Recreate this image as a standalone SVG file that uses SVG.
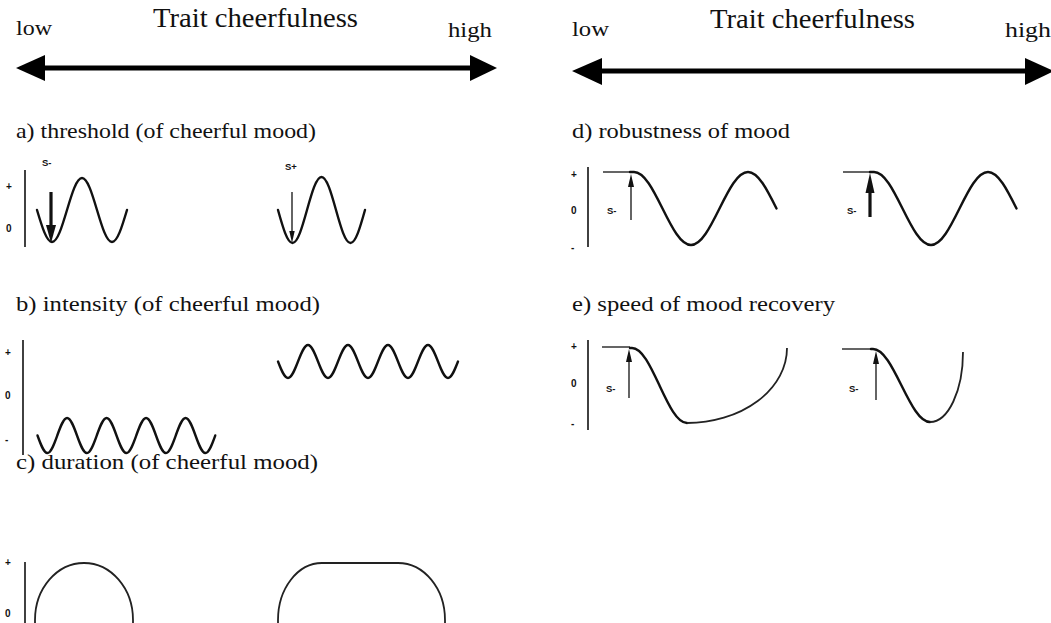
<svg xmlns="http://www.w3.org/2000/svg" width="1051" height="623" viewBox="0 0 1051 623">
<style>
.title{font-family:"Liberation Serif","Times New Roman",Times,serif;font-size:28px;fill:#111}
.end{font-family:"Liberation Serif","Times New Roman",Times,serif;font-size:22px;fill:#111}
.lab{font-family:"Liberation Serif","Times New Roman",Times,serif;font-size:22px;fill:#111}
.tick{font-family:"Liberation Sans",Arial,sans-serif;font-size:10px;font-weight:bold;fill:#111}
.s{font-family:"Liberation Sans",Arial,sans-serif;font-size:9.5px;font-weight:bold;fill:#111}
.ax{stroke:#111;stroke-width:1.6;fill:none}
.wave{stroke:#111;stroke-width:2.4;fill:none;stroke-linejoin:round;stroke-linecap:round}
.smooth{stroke:#222;stroke-width:1.8;fill:none}
.base{stroke:#111;stroke-width:1.3;fill:none}
.thin{stroke:#111;stroke-width:1.3;fill:none}
.thick{stroke:#111;stroke-width:3.2;fill:none}
.big{stroke:#000;stroke-width:5;fill:none}
</style>
<rect width="1051" height="623" fill="#fff"/>

<g id="scale-left">
<text class="title" x="153" y="27" textLength="205" lengthAdjust="spacingAndGlyphs">Trait cheerfulness</text>
<text class="end" x="16" y="35" textLength="36" lengthAdjust="spacingAndGlyphs">low</text>
<text class="end" x="448" y="37" textLength="44" lengthAdjust="spacingAndGlyphs">high</text>
<line class="big" x1="40" y1="68" x2="475" y2="68"/>
<polygon points="16,68 45,55 45,81" fill="#000"/>
<polygon points="497,68 470,55 470,81" fill="#000"/>
</g>

<g id="scale-right">
<text class="title" x="710" y="28" textLength="205" lengthAdjust="spacingAndGlyphs">Trait cheerfulness</text>
<text class="end" x="572" y="36" textLength="37" lengthAdjust="spacingAndGlyphs">low</text>
<text class="end" x="1005" y="37" textLength="46" lengthAdjust="spacingAndGlyphs">high</text>
<line class="big" x1="598" y1="71" x2="1030" y2="71"/>
<polygon points="572,71 602,58 602,85" fill="#000"/>
<polygon points="1054,71 1025,58 1025,85" fill="#000"/>
</g>

<g id="panel-a">
<text class="lab" x="16" y="138" textLength="300" lengthAdjust="spacingAndGlyphs">a) threshold (of cheerful mood)</text>
<line class="ax" x1="25" y1="170" x2="25" y2="247"/>
<text class="tick" x="6" y="190">+</text>
<text class="tick" x="6" y="232">0</text>
<text class="s" x="42" y="166">S-</text>
<path class="wave" d="M37,210 C41.89,226.4 46.57,242 52,242 S62.11,226.4 67,210 S76.57,178 82,178 S92.11,193.6 97,210 S106.57,242 112,242 S122.11,226.4 127,210"/>
<line class="thick" x1="51" y1="192" x2="51" y2="228"/>
<polygon points="46,225 56,225 51,243" fill="#111"/>
<text class="s" x="285" y="170">S+</text>
<path class="wave" d="M278,210 C282.73,226.9 287.25,243 292.5,243 S302.27,226.9 307,210 S316.25,177 321.5,177 S331.27,193.1 336,210 S345.25,243 350.5,243 S360.27,226.9 365,210"/>
<line class="thin" x1="292" y1="192" x2="292" y2="236"/>
<polygon points="289.3,231 294.7,231 292,243" fill="#111"/>
</g>

<g id="panel-b">
<text class="lab" x="16" y="311" textLength="304" lengthAdjust="spacingAndGlyphs">b) intensity (of cheerful mood)</text>
<line class="ax" x1="23" y1="340" x2="23" y2="455"/>
<text class="tick" x="5" y="356">+</text>
<text class="tick" x="5" y="399">0</text>
<text class="tick" x="5" y="443">-</text>
<path class="wave" d="M37.5,435.5 C40.72,444.46 43.8,453 47.4,453 S54.03,444.46 57.25,435.5 S63.55,418 67.1,418 S73.78,426.54 77,435.5 S83.3,453 86.9,453 S93.53,444.46 96.75,435.5 S103.05,418 106.6,418 S113.28,426.54 116.5,435.5 S122.8,453 126.4,453 S133.03,444.46 136.25,435.5 S142.55,418 146.1,418 S152.78,426.54 156,435.5 S162.3,453 165.9,453 S172.53,444.46 175.75,435.5 S182.05,418 185.6,418 S192.28,426.54 195.5,435.5 S201.8,453 205.4,453 S212.03,444.46 215.25,435.5"/>
<path class="wave" d="M278,361.5 C281.26,369.95 284.38,378 288,378 S294.74,369.95 298,361.5 S304.38,345 308,345 S314.74,353.05 318,361.5 S324.38,378 328,378 S334.74,369.95 338,361.5 S344.38,345 348,345 S354.74,353.05 358,361.5 S364.38,378 368,378 S374.74,369.95 378,361.5 S384.38,345 388,345 S394.74,353.05 398,361.5 S404.38,378 408,378 S414.74,369.95 418,361.5 S424.38,345 428,345 S434.74,353.05 438,361.5 S444.38,378 448,378 S454.74,369.95 458,361.5"/>
</g>

<g id="panel-c">
<text class="lab" x="16" y="469" textLength="302" lengthAdjust="spacingAndGlyphs">c) duration (of cheerful mood)</text>
<line class="ax" x1="25" y1="562" x2="25" y2="630"/>
<text class="tick" x="5" y="566">+</text>
<text class="tick" x="5" y="617">0</text>
<path class="smooth" d="M35,625 L35,620 A49,57 0 0 1 133,620 L133,625"/>
<path class="smooth" d="M278,625 L278,620 A44,57 0 0 1 322,563 L398,563 A47,57 0 0 1 445,620 L445,625"/>
</g>

<g id="panel-d">
<text class="lab" x="572" y="138" textLength="218" lengthAdjust="spacingAndGlyphs">d) robustness of mood</text>
<line class="ax" x1="588" y1="167" x2="588" y2="247"/>
<text class="tick" x="571" y="178">+</text>
<text class="tick" x="571" y="214">0</text>
<text class="tick" x="571" y="251">-</text>
<line class="base" x1="603" y1="172" x2="632" y2="172"/>
<line class="thin" x1="631" y1="220" x2="631" y2="182"/>
<polygon points="628,187 634,187 631,174" fill="#111"/>
<text class="s" x="607" y="214">S-</text>
<path class="wave" d="M630,172 L634,172 C644.3,172 653.2,189.8 662.5,208.5 S680.7,245 691,245 S710.2,227.2 719.5,208.5 S737.7,172 748,172 S767.2,189.8 776.5,208.5"/>
<line class="base" x1="843" y1="172" x2="872" y2="172"/>
<line class="thick" x1="870" y1="217" x2="870" y2="188"/>
<polygon points="865.5,193 874.5,193 870,173" fill="#111"/>
<text class="s" x="847" y="214">S-</text>
<path class="wave" d="M870,172 L874,172 C884.3,172 893.2,189.8 902.5,208.5 S920.7,245 931,245 S950.2,227.2 959.5,208.5 S977.7,172 988,172 S1007.2,189.8 1016.5,208.5"/>
</g>

<g id="panel-e">
<text class="lab" x="572" y="311" textLength="263" lengthAdjust="spacingAndGlyphs">e) speed of mood recovery</text>
<line class="ax" x1="588" y1="340" x2="588" y2="430"/>
<text class="tick" x="571" y="350">+</text>
<text class="tick" x="571" y="387">0</text>
<text class="tick" x="571" y="427">-</text>
<line class="base" x1="602" y1="347" x2="630" y2="347"/>
<line class="thin" x1="629" y1="398" x2="629" y2="357"/>
<polygon points="626,362 632,362 629,349" fill="#111"/>
<text class="s" x="606" y="392">S-</text>
<path class="wave" d="M630,348 L632,348 C642,348 650.5,366.3 659.5,385.5 S677,423 687,423"/>
<path class="smooth" d="M687,423 A100,75 0 0 0 787,348"/>
<line class="base" x1="842" y1="349" x2="872" y2="349"/>
<line class="thin" x1="876" y1="400" x2="876" y2="359"/>
<polygon points="873,364 879,364 876,351" fill="#111"/>
<text class="s" x="849" y="392">S-</text>
<path class="wave" d="M871,349 L873,349 C883.3,349 892.2,366.8 901.5,385.5 S919.7,422 930,422"/>
<path class="smooth" d="M930,422 A33,70 0 0 0 963,352"/>
</g>
</svg>
